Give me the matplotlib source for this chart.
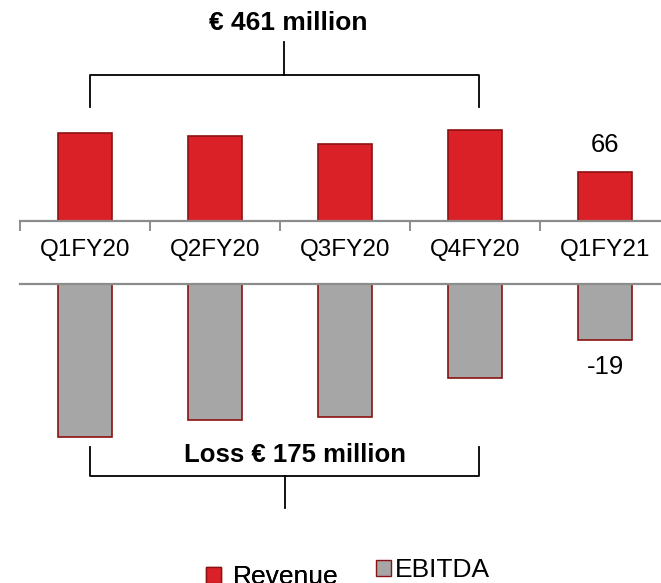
import numpy as np
import matplotlib
matplotlib.use("Agg")
import matplotlib.pyplot as plt
from matplotlib.patches import Patch

plt.rcParams['font.family'] = ['Liberation Sans', 'DejaVu Sans']

# data (EUR million)
quarters = ["Q1FY20", "Q2FY20", "Q3FY20", "Q4FY20", "Q1FY21"]
revenue = [119, 115, 104, 123, 66]
ebitda = [-52, -46, -45, -32, -19]
total_revenue_label = "€ 461 million"
total_loss_label = "Loss € 175 million"

red = "#DA2128"
red_edge = "#8B1212"
grey = "#A6A6A6"
axis_grey = "#8C8C8C"

W, H = 661, 583
fig = plt.figure(figsize=(W / 100, H / 100), dpi=100)

x = np.arange(len(quarters))
xlim = (-0.5, 4.43)
left = 20 / W
width = 1 - left

# top panel: revenue
ax_top = fig.add_axes([left, 1 - 221 / H, width, 221 / H])
ax_top.bar(x, revenue, width=0.415, color=red, edgecolor=red_edge, linewidth=1.2)

# bottom panel: ebitda
ax_bot = fig.add_axes([left, 0, width, 1 - 284 / H])
ax_bot.bar(x, ebitda, width=0.415, color=grey, edgecolor=red_edge, linewidth=1.2)

for ax in (ax_top, ax_bot):
    for s in ax.spines.values():
        s.set_visible(False)
    ax.set_yticks([])
    ax.set_xticks([])
    ax.patch.set_alpha(0)

ax_top.spines['bottom'].set_visible(True)
ax_top.spines['bottom'].set_color(axis_grey)
ax_top.spines['bottom'].set_linewidth(1.6)
ax_top.set_xticks(np.arange(-0.5, 4, 1), minor=True)
ax_top.tick_params(axis='x', which='minor', direction='out', length=7,
                   width=1.4, color=axis_grey)

ax_bot.spines['top'].set_visible(True)
ax_bot.spines['top'].set_color(axis_grey)
ax_bot.spines['top'].set_linewidth(1.6)

ax_top.set_xlim(*xlim)
ax_top.set_ylim(0, 299.5)
ax_bot.set_xlim(*xlim)
ax_bot.set_ylim(-101.4, 0)

# category labels in the gap
for xi, q in zip(x, quarters):
    ax_top.text(xi, -39, q, ha='center', va='center', fontsize=17.5, clip_on=False)

# value labels for latest quarter
ax_top.annotate(str(revenue[-1]), (x[-1], revenue[-1]), xytext=(0, 19.5),
                textcoords='offset points', ha='center', va='center', fontsize=18.5)
ax_bot.annotate(str(ebitda[-1]), (x[-1], ebitda[-1]), xytext=(0, -19.5),
                textcoords='offset points', ha='center', va='center', fontsize=18.5)

# brackets for FY20 totals
lw = 1.3
ax_top.plot([0.04, 0.04, 3.03, 3.03], [154.5, 198, 198, 154.5], color='black',
            lw=lw, clip_on=False)
ax_top.plot([1.53, 1.53], [198, 242.5], color='black', lw=lw, clip_on=False)
ax_top.text(1.56, 269, total_revenue_label, ha='center', va='center',
            fontsize=19, fontweight='bold')

ax_bot.plot([0.04, 0.04, 3.03, 3.03], [-55.2, -65.1, -65.1, -55.2], color='black',
            lw=lw, clip_on=False)
ax_bot.plot([1.54, 1.54], [-65.1, -75.9], color='black', lw=lw)
ax_bot.text(1.615, -58, total_loss_label, ha='center', va='center',
            fontsize=18.5, fontweight='bold')

# legend (two entries, slightly offset like the original)
leg_kw = dict(frameon=False, fontsize=19, handlelength=0.55, handleheight=0.55,
              borderpad=0, borderaxespad=0)
leg1 = fig.legend(handles=[Patch(facecolor=red, edgecolor=red_edge, label="Revenue")],
                  loc='center', bbox_to_anchor=(272 / W, 1 - 577 / H),
                  handletextpad=0.45, **leg_kw)
fig.legend(handles=[Patch(facecolor=grey, edgecolor=red_edge, label="EBITDA")],
           loc='center', bbox_to_anchor=(433 / W, 1 - 570 / H),
           handletextpad=0.15, **leg_kw)
fig.add_artist(leg1)

fig.savefig("out.png", dpi=100)
